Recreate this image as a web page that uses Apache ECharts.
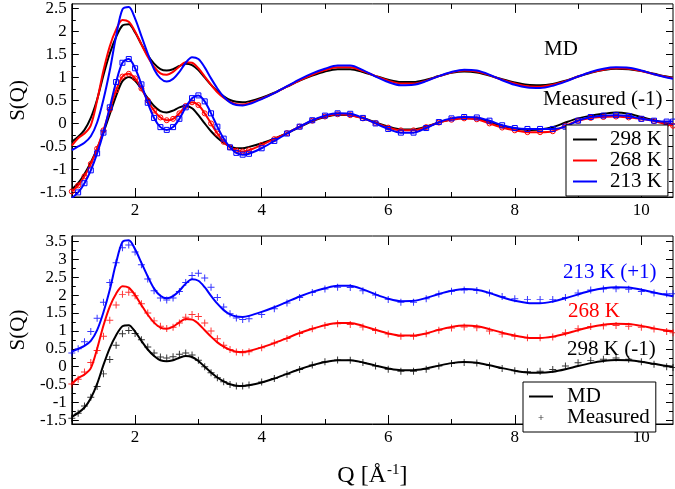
<!DOCTYPE html>
<html><head><meta charset="utf-8">
<script src="https://cdn.jsdelivr.net/npm/echarts@6/dist/echarts.min.js"></script>
<style>html,body{margin:0;padding:0;background:#fff}#c{width:675px;height:489px}</style>
</head><body><div id="c"></div>
<script>
// Q grid (Å^-1)
const Q = [1.0,1.1,1.2,1.3,1.4,1.5,1.6,1.7,1.8,1.9,2.0,2.1,2.2,2.3,2.4,2.5,2.6,2.7,2.8,2.9,3.0,3.1,3.2,3.3,3.4,3.5,3.6,3.7,3.8,
  4.0,4.2,4.4,4.6,4.8,5.0,5.2,5.4,5.6,5.8,6.0,6.2,6.4,6.6,6.8,7.0,7.2,7.4,7.6,7.8,8.0,8.2,8.4,8.6,8.8,9.0,9.2,9.4,9.6,9.8,10.0,10.2,10.4,10.5];

// MD S(Q)
const md298 = [-0.40,-0.29,-0.14,0.12,0.52,1.05,1.52,1.88,2.13,2.16,1.98,1.72,1.48,1.30,1.18,1.15,1.18,1.25,1.30,1.27,1.16,1.00,0.84,0.70,0.59,0.51,0.47,0.46,0.48,
  0.56,0.67,0.80,0.93,1.04,1.13,1.18,1.18,1.12,1.03,0.95,0.90,0.90,0.95,1.03,1.10,1.13,1.11,1.04,0.96,0.89,0.84,0.83,0.86,0.93,1.02,1.10,1.16,1.19,1.18,1.14,1.08,1.02,1.00];
const md268 = [-0.48,-0.32,-0.22,-0.04,0.50,1.15,1.68,2.04,2.25,2.21,2.00,1.72,1.45,1.23,1.09,1.06,1.12,1.24,1.33,1.32,1.20,1.02,0.84,0.68,0.56,0.47,0.42,0.41,0.44,
  0.54,0.66,0.80,0.94,1.06,1.16,1.22,1.22,1.14,1.03,0.93,0.87,0.87,0.93,1.03,1.11,1.15,1.13,1.05,0.95,0.87,0.81,0.80,0.84,0.92,1.02,1.11,1.17,1.20,1.19,1.14,1.07,1.01,0.99];
const md213 = [-0.58,-0.50,-0.42,-0.28,0.02,0.52,1.15,1.90,2.48,2.53,2.28,1.90,1.52,1.18,0.98,0.91,0.97,1.12,1.32,1.44,1.40,1.22,0.98,0.76,0.58,0.46,0.40,0.39,0.42,
  0.53,0.66,0.81,0.96,1.09,1.19,1.26,1.26,1.16,1.02,0.90,0.83,0.84,0.92,1.03,1.12,1.17,1.15,1.06,0.94,0.84,0.78,0.77,0.82,0.91,1.02,1.12,1.19,1.22,1.21,1.15,1.07,1.00,0.97];

// Measured S(Q)
const meas298 = [-0.44,-0.30,-0.10,0.15,0.45,0.80,1.20,1.60,1.92,2.01,1.93,1.75,1.55,1.38,1.27,1.24,1.28,1.35,1.38,1.33,1.18,1.00,0.83,0.69,0.58,0.50,0.46,0.46,0.49,
  0.57,0.67,0.79,0.92,1.05,1.14,1.19,1.18,1.12,1.02,0.93,0.87,0.87,0.93,1.02,1.09,1.12,1.10,1.03,0.95,0.89,0.86,0.87,0.92,1.02,1.11,1.17,1.21,1.24,1.21,1.14,1.07,1.00,0.98];
const meas268 = [-0.48,-0.35,-0.15,0.12,0.45,0.85,1.30,1.72,2.02,2.08,1.98,1.76,1.50,1.28,1.13,1.07,1.10,1.22,1.38,1.46,1.40,1.22,1.00,0.78,0.60,0.48,0.41,0.39,0.42,
  0.53,0.66,0.79,0.93,1.06,1.15,1.20,1.18,1.11,1.01,0.91,0.85,0.85,0.92,1.02,1.08,1.11,1.09,1.00,0.91,0.85,0.81,0.81,0.83,0.95,1.06,1.12,1.14,1.15,1.13,1.10,1.05,0.98,0.95];
const meas213 = [-0.62,-0.50,-0.30,-0.02,0.35,0.80,1.35,1.90,2.32,2.40,2.20,1.85,1.45,1.12,0.92,0.86,0.92,1.10,1.35,1.55,1.61,1.48,1.22,0.93,0.67,0.48,0.36,0.32,0.34,
  0.46,0.62,0.78,0.93,1.07,1.17,1.22,1.21,1.12,1.00,0.88,0.80,0.80,0.90,1.03,1.11,1.14,1.13,1.06,0.96,0.90,0.88,0.88,0.88,0.93,1.06,1.14,1.17,1.18,1.16,1.10,1.06,1.04,1.04];

// Vertical offsets shown in the labels
const topMeasOffset = -1;          // "Measured (-1)"
const botOffsets = { '298': -1, '268': 0, '213': 1 };

// Tick values
const xMajor = [2,4,6,8,10];
const xMinor = [1,3,5,7,9];
const yTopMajor = [-1.5,-1,-0.5,0,0.5,1,1.5,2,2.5];
const yTopMinor = [-1.25,-0.75,-0.25,0.25,0.75,1.25,1.75,2.25];
const yBotMajor = [-1.5,-1,-0.5,0,0.5,1,1.5,2,2.5,3,3.5];
const yBotMinor = [-1.25,-0.75,-0.25,0.25,0.75,1.25,1.75,2.25,2.75,3.25];

const FONT = 'Liberation Serif';
const C = { '298': '#000000', '268': '#ff0000', '213': '#0000ff' };

function pts(arr, off) { return Q.map((q, i) => [q, +(arr[i] + off).toFixed(3)]); }

function labelCfg(vals, show) {
  return { show: show, customValues: vals, fontFamily: FONT, fontSize: 17, color: '#000', margin: 5 };
}
function xAx(grid, pos, vals, len, labels, extra) {
  const ax = {
    type: 'value', gridIndex: grid, position: pos, min: 1, max: 10.5,
    axisLine: { show: labels, onZero: false, lineStyle: { color: '#000', width: 1 } },
    axisTick: { show: true, inside: true, length: len, customValues: vals, lineStyle: { color: '#000', width: 1 } },
    splitLine: { show: false },
    axisLabel: labelCfg(vals, labels)
  };
  return Object.assign(ax, extra || {});
}
function yAx(grid, pos, vals, len, labels, min, max, extra) {
  const ax = {
    type: 'value', gridIndex: grid, position: pos, min: min, max: max,
    axisLine: { show: labels, onZero: false, lineStyle: { color: '#000', width: 1 } },
    axisTick: { show: true, inside: true, length: len, customValues: vals, lineStyle: { color: '#000', width: 1 } },
    splitLine: { show: false },
    axisLabel: labelCfg(vals, labels)
  };
  return Object.assign(ax, extra || {});
}

const grids = [
  { left: 60, top: 1, width: 613, height: 196, show: true, borderColor: '#000', borderWidth: 1, backgroundColor: 'transparent' },
  { left: 60, top: 236, width: 613, height: 196, show: true, borderColor: '#000', borderWidth: 1, backgroundColor: 'transparent' }
];

const xAxes = [
  xAx(0, 'bottom', xMajor, 9, true),
  xAx(1, 'bottom', xMajor, 9, true, {
    name: '{a|Q [Å}{s|-1}{a|]}', nameLocation: 'middle', nameGap: 38,
    nameTextStyle: { rich: {
      a: { fontFamily: FONT, fontSize: 24, color: '#000', lineHeight: 28 },
      s: { fontFamily: FONT, fontSize: 15, color: '#000', padding: [0, 0, 12, 1] }
    } }
  }),
  xAx(0, 'bottom', xMinor, 5, false), xAx(0, 'top', xMajor, 9, false), xAx(0, 'top', xMinor, 5, false),
  xAx(1, 'bottom', xMinor, 5, false), xAx(1, 'top', xMajor, 9, false), xAx(1, 'top', xMinor, 5, false)
];

const yName = () => ({ name: 'S(Q)', nameLocation: 'middle', nameGap: 38, nameTextStyle: { fontFamily: FONT, fontSize: 21, color: '#000' } });
const yAxes = [
  yAx(0, 'left', yTopMajor, 7, true, -1.6, 2.6, yName()),
  yAx(1, 'left', yBotMajor, 7, true, -1.6, 3.65, yName()),
  yAx(0, 'left', yTopMinor, 4, false, -1.6, 2.6),
  yAx(0, 'right', yTopMajor, 7, false, -1.6, 2.6), yAx(0, 'right', yTopMinor, 4, false, -1.6, 2.6),
  yAx(1, 'left', yBotMinor, 4, false, -1.6, 3.65),
  yAx(1, 'right', yBotMajor, 7, false, -1.6, 3.65), yAx(1, 'right', yBotMinor, 4, false, -1.6, 3.65)
];

const plusPath = 'path://M4.3,0H5.7V4.3H10V5.7H5.7V10H4.3V5.7H0V4.3H4.3Z';
const series = [];
// Top panel: measured (-1)
series.push({ name: 'meas 298', type: 'line', xAxisIndex: 0, yAxisIndex: 0, data: pts(meas298, topMeasOffset),
  smooth: 0.3, showSymbol: false, symbol: 'none', lineStyle: { color: C['298'], width: 2 }, itemStyle: { color: C['298'] }, z: 2 });
series.push({ name: 'meas 268', type: 'line', xAxisIndex: 0, yAxisIndex: 0, data: pts(meas268, topMeasOffset),
  smooth: 0.3, symbol: 'circle', symbolSize: 5, showAllSymbol: true,
  lineStyle: { color: C['268'], width: 2 }, itemStyle: { color: 'rgba(0,0,0,0)', borderColor: C['268'], borderWidth: 1 }, z: 3 });
series.push({ name: 'meas 213', type: 'line', xAxisIndex: 0, yAxisIndex: 0, data: pts(meas213, topMeasOffset),
  smooth: 0.3, symbol: 'rect', symbolSize: 5, showAllSymbol: true,
  lineStyle: { color: C['213'], width: 2 }, itemStyle: { color: 'rgba(0,0,0,0)', borderColor: C['213'], borderWidth: 1 }, z: 4 });
// Top panel: MD
[['298 K', md298, '298'], ['268 K', md268, '268'], ['213 K', md213, '213']].forEach(([n, d, k], i) => {
  series.push({ name: n, type: 'line', xAxisIndex: 0, yAxisIndex: 0, data: pts(d, 0), smooth: 0.3, symbol: 'none',
    lineStyle: { color: C[k], width: 2 }, itemStyle: { color: C[k] }, z: 5 + i });
});
// Bottom panel: MD lines and measured "+"
[['298', md298, meas298], ['268', md268, meas268], ['213', md213, meas213]].forEach(([k, d, m], i) => {
  series.push({ name: 'MD', type: 'line', xAxisIndex: 1, yAxisIndex: 1, data: pts(d, botOffsets[k]), smooth: 0.3, symbol: 'none',
    lineStyle: { color: C[k], width: 2 }, itemStyle: { color: C[k] }, z: 3 + i });
  series.push({ name: 'Measured', type: 'scatter', xAxisIndex: 1, yAxisIndex: 1, data: pts(m, botOffsets[k]),
    symbol: plusPath, symbolSize: 7, itemStyle: { color: C[k] }, z: 3 + i });
});

const chart = echarts.init(document.getElementById('c'));
chart.setOption({
  animation: false,
  backgroundColor: '#fff',
  textStyle: { fontFamily: FONT, fontSize: 17, color: '#000' },
  grid: grids, xAxis: xAxes, yAxis: yAxes, series: series,
  legend: [
    { data: [{ name: '298 K', icon: 'path://M0,0H24V2H0Z', itemStyle: { color: C['298'] } },
             { name: '268 K', icon: 'path://M0,0H24V2H0Z', itemStyle: { color: C['268'] } },
             { name: '213 K', icon: 'path://M0,0H24V2H0Z', itemStyle: { color: C['213'] } }],
      orient: 'vertical', left: 566, top: 125, itemWidth: 24, itemHeight: 6, itemGap: 0,
      padding: [4, 6, 4, 7], borderColor: '#000', borderWidth: 1, backgroundColor: '#fff', selectedMode: false,
      textStyle: { fontFamily: FONT, fontSize: 21, lineHeight: 20, color: '#000', padding: [0, 0, 0, 8] }, z: 10 },
    { data: [{ name: 'MD', icon: 'path://M0,0H24V2H0Z', itemStyle: { color: '#000' } },
             { name: 'Measured', icon: plusPath, itemStyle: { color: '#000' } }],
      orient: 'vertical', left: 523, top: 382, itemWidth: 24, itemHeight: 5, itemGap: 0,
      padding: [4, 6, 4, 6], borderColor: '#000', borderWidth: 1, backgroundColor: '#fff', selectedMode: false,
      textStyle: { fontFamily: FONT, fontSize: 21, lineHeight: 19, color: '#000', padding: [0, 0, 0, 9] }, z: 10 }
  ],
  graphic: [
    { type: 'text', x: 544, y: 49, z: 20, style: { text: 'MD', font: '21px "Liberation Serif"', fill: '#000', verticalAlign: 'middle' } },
    { type: 'text', x: 543, y: 99, z: 20, style: { text: 'Measured (-1)', font: '21px "Liberation Serif"', fill: '#000', verticalAlign: 'middle' } },
    { type: 'text', x: 563, y: 272, z: 20, style: { text: '213 K (+1)', font: '21px "Liberation Serif"', fill: C['213'], verticalAlign: 'middle' } },
    { type: 'text', x: 568, y: 311, z: 20, style: { text: '268 K', font: '21px "Liberation Serif"', fill: C['268'], verticalAlign: 'middle' } },
    { type: 'text', x: 567, y: 349, z: 20, style: { text: '298 K (-1)', font: '21px "Liberation Serif"', fill: C['298'], verticalAlign: 'middle' } }
  ]
});
</script></body></html>
